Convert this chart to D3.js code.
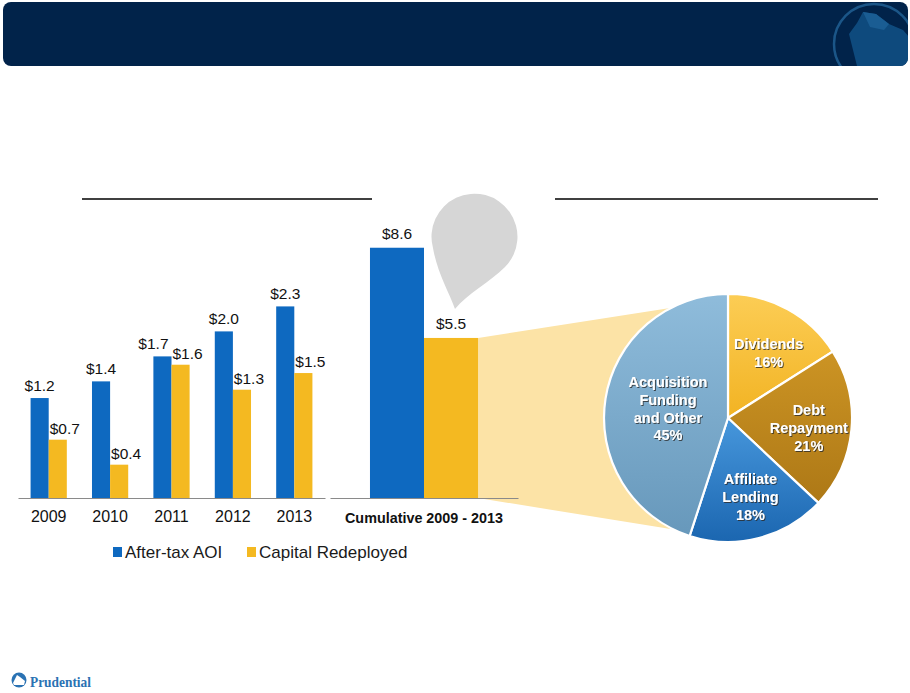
<!DOCTYPE html>
<meta charset="utf-8">
<style>
body { margin: 0; background: #fff; }
svg { display: block; font-family: "Liberation Sans", Arial, sans-serif; }
.val { font-size: 15.5px; fill: #111; text-anchor: middle; }
.cat { font-size: 16px; fill: #111; text-anchor: middle; }
.legend text { font-size: 17px; fill: #1a1a1a; }
.slice-label { font-size: 14.5px; font-weight: bold; fill: #fff; text-anchor: middle; }
</style>
<svg width="910" height="693"></svg>
<script src="https://d3js.org/d3.v7.min.js"></script>
<script>
// Annual figures ($ billions)
const years = ["2009", "2010", "2011", "2012", "2013"];
const aoi = [1.2, 1.4, 1.7, 2.0, 2.3];
const redeployed = [0.7, 0.4, 1.6, 1.3, 1.5];

// Cumulative 2009 - 2013
const cumLabel = "Cumulative 2009 - 2013";
const cumAoi = 8.6;
const cumRedeployed = 5.5;

// Use of redeployed capital (%)
const useNames = [["Dividends"], ["Debt", "Repayment"], ["Affiliate", "Lending"], ["Acquisition", "Funding", "and Other"]];
const usePct = [16, 21, 18, 45];

const seriesNames = ["After-tax AOI", "Capital Redeployed"];
const barColor = {aoi: "#0e69c0", red: "#f4b921"};

const svg = d3.select("svg");
const fmt = d3.format("$.1f");
const baseY = 498;

// header band
svg.append("clipPath").attr("id", "hdr")
  .append("rect").attr("x", 3).attr("y", 2).attr("width", 905).attr("height", 64).attr("rx", 8);
svg.append("rect").attr("x", 3).attr("y", 2).attr("width", 905).attr("height", 64).attr("rx", 8)
  .attr("fill", "#01234a");
const logo = svg.append("g").attr("clip-path", "url(#hdr)");
logo.append("path")
  .attr("d", "M849,34 L857,23 L863,12 L876,14 L889,24 L903,30 L910,38 L910,66 L857,66 L853,50 Z")
  .attr("fill", "#0e4a7d");
logo.append("path")
  .attr("d", "M863,12 L876,14 L889,24 L884,30 L870,27 Z")
  .attr("fill", "#1a5d93");
logo.append("circle").attr("cx", 874).attr("cy", 44).attr("r", 40)
  .attr("fill", "none").attr("stroke", "#1b5688").attr("stroke-width", 2.5);

// section rules
svg.append("line").attr("x1", 82).attr("x2", 372).attr("y1", 199).attr("y2", 199)
  .attr("stroke", "#000").attr("stroke-width", 1.3);
svg.append("line").attr("x1", 555).attr("x2", 878).attr("y1", 199).attr("y2", 199)
  .attr("stroke", "#000").attr("stroke-width", 1.3);

// scales
const x0 = d3.scaleBand().domain(years).range([18, 325]).paddingInner(0.41).paddingOuter(0.205);
const x1 = d3.scaleBand().domain(["aoi", "red"]).range([0, x0.bandwidth()]);
const y = d3.scaleLinear().domain([0, 3]).range([baseY, baseY - 3 * 83.3]);

const xc = d3.scaleBand().domain([cumLabel]).range([330, 518]).paddingOuter(0.37);
const xc1 = d3.scaleBand().domain(["aoi", "red"]).range([0, xc.bandwidth()]);
const yc = d3.scaleLinear().domain([0, 10]).range([baseY, baseY - 291]);

// pie geometry
const pieCx = 728, pieCy = 418, pieR = 124;

// pale zoom wedge from cumulative bar to the pie
const wx = xc(cumLabel) + xc1("red") + xc1.bandwidth();
svg.append("path")
  .attr("d", d3.line()([[wx, yc(cumRedeployed)], [pieCx, pieCy - pieR * 0.96], [pieCx, pieCy + pieR * 0.97], [wx, baseY]]) + "Z")
  .attr("fill", "#fce3a6");

// annual bars
const rows = years.map((yr, i) => ({year: yr, aoi: aoi[i], red: redeployed[i]}));
const groups = svg.append("g").selectAll("g").data(rows).join("g")
  .attr("transform", d => `translate(${x0(d.year)},0)`);
groups.selectAll("rect").data(d => [{k: "aoi", v: d.aoi}, {k: "red", v: d.red}]).join("rect")
  .attr("x", d => x1(d.k)).attr("width", x1.bandwidth())
  .attr("y", d => y(d.v)).attr("height", d => baseY - y(d.v))
  .attr("fill", d => barColor[d.k]);
groups.each(function(d) {
  const g = d3.select(this);
  const clash = Math.abs(y(d.aoi) - y(d.red)) < 16;
  g.append("text").attr("class", "val")
    .attr("x", x1("aoi") + x1.bandwidth() / 2 + (clash ? -9 : 0))
    .attr("y", y(d.aoi) - 7).text(fmt(d.aoi));
  g.append("text").attr("class", "val")
    .attr("x", x1("red") + x1.bandwidth() / 2 + 7)
    .attr("y", y(d.red) - 6).text(fmt(d.red));
});

// cumulative bars
const cumRows = [{k: "aoi", v: cumAoi}, {k: "red", v: cumRedeployed}];
const cg = svg.append("g").attr("transform", `translate(${xc(cumLabel)},0)`);
cg.selectAll("rect").data(cumRows).join("rect")
  .attr("x", d => xc1(d.k)).attr("width", xc1.bandwidth())
  .attr("y", d => yc(d.v)).attr("height", d => baseY - yc(d.v))
  .attr("fill", d => barColor[d.k]);
cg.selectAll("text").data(cumRows).join("text").attr("class", "val")
  .attr("x", d => xc1(d.k) + xc1.bandwidth() / 2)
  .attr("y", d => yc(d.v) - 9).text(d => fmt(d.v));

// baselines and category labels
const axL = svg.append("g").attr("transform", `translate(0,${baseY})`)
  .call(d3.axisBottom(x0).tickSize(0).tickPadding(13));
const axR = svg.append("g").attr("transform", `translate(0,${baseY})`)
  .call(d3.axisBottom(xc).tickSize(0).tickPadding(14));
[axL, axR].forEach(a => {
  a.select(".domain").attr("stroke", "#8a8a8a").attr("stroke-width", 1.2);
  a.selectAll("text").attr("class", "cat").attr("font-family", null).attr("font-size", null);
});
axR.selectAll("text").style("font-size", "15px").style("font-weight", "bold")
  .attr("textLength", 158).attr("lengthAdjust", "spacingAndGlyphs");

// speech bubble
const bx = 475, by = 236, br = 43;
svg.append("path")
  .attr("d", `M455,309 C449,292 437,272 ${bx - br + 1},${by + 12} A${br},${br} 0 1 1 ${bx + 30},${by + 31} C490,282 467,294 455,309 Z`)
  .attr("fill", "#d6d6d6");

// legend
const legend = svg.append("g").attr("class", "legend");
const legX = [113, 247];
seriesNames.forEach((name, i) => {
  legend.append("rect").attr("x", legX[i]).attr("y", 547).attr("width", 9).attr("height", 10)
    .attr("fill", i === 0 ? barColor.aoi : barColor.red);
  legend.append("text").attr("x", legX[i] + 12).attr("y", 558).text(name);
});

// pie
const defs = svg.append("defs");
const grads = [["#fccd55", "#f2b323"], ["#cc9424", "#ad7816"], ["#4797dc", "#1b66b0"], ["#8fbcdb", "#6798bb"]];
grads.forEach((c, i) => {
  const lg = defs.append("linearGradient").attr("id", "pg" + i).attr("x1", 0).attr("y1", 0).attr("x2", 0).attr("y2", 1);
  lg.append("stop").attr("offset", "0%").attr("stop-color", c[0]);
  lg.append("stop").attr("offset", "100%").attr("stop-color", c[1]);
});
const shadow = defs.append("filter").attr("id", "ts").attr("x", "-20%").attr("y", "-20%").attr("width", "140%").attr("height", "140%");
shadow.append("feDropShadow").attr("dx", 1).attr("dy", 1).attr("stdDeviation", 0.7)
  .attr("flood-color", "#2a2a2a").attr("flood-opacity", 0.8);

const pie = d3.pie().sort(null).value(d => d.pct);
const arcs = pie(usePct.map((p, i) => ({pct: p, lines: useNames[i], i})));
const arc = d3.arc().innerRadius(0).outerRadius(pieR);
const pg = svg.append("g").attr("transform", `translate(${pieCx},${pieCy})`);
pg.selectAll("path").data(arcs).join("path")
  .attr("d", arc)
  .attr("fill", d => `url(#pg${d.data.i})`)
  .attr("stroke", "#fff").attr("stroke-width", 2.2);

pg.selectAll("text").data(arcs).join("text").attr("class", "slice-label")
  .attr("filter", "url(#ts)")
  .each(function(d) {
    const big = d.data.pct > 40;
    const lr = big ? pieR * 0.49 : pieR * 0.63;
    const [cx, cy] = d3.arc().innerRadius(lr).outerRadius(lr).centroid(d);
    const lines = d.data.lines.concat([d.data.pct + "%"]);
    const t = d3.select(this);
    lines.forEach((ln, j) => {
      t.append("tspan").attr("x", cx + (big ? 0 : 3))
        .attr("y", cy + (j - (lines.length - 1) / 2) * 18 + (big ? 5 : 8))
        .text(ln);
    });
  });

// footer logo
const foot = svg.append("g");
foot.append("circle").attr("cx", 19).attr("cy", 680).attr("r", 7.5).attr("fill", "#2a72b3");
foot.append("path").attr("d", "M13,683 L17,675 L20,677 L25,681 L24,685 L14,685 Z").attr("fill", "#fff");
foot.append("text").attr("x", 30).attr("y", 687)
  .attr("font-family", "'Liberation Serif', 'DejaVu Serif', serif").attr("font-weight", "bold")
  .attr("font-size", 15).attr("textLength", 61).attr("lengthAdjust", "spacingAndGlyphs")
  .attr("fill", "#2a72b3").text("Prudential");
</script>
